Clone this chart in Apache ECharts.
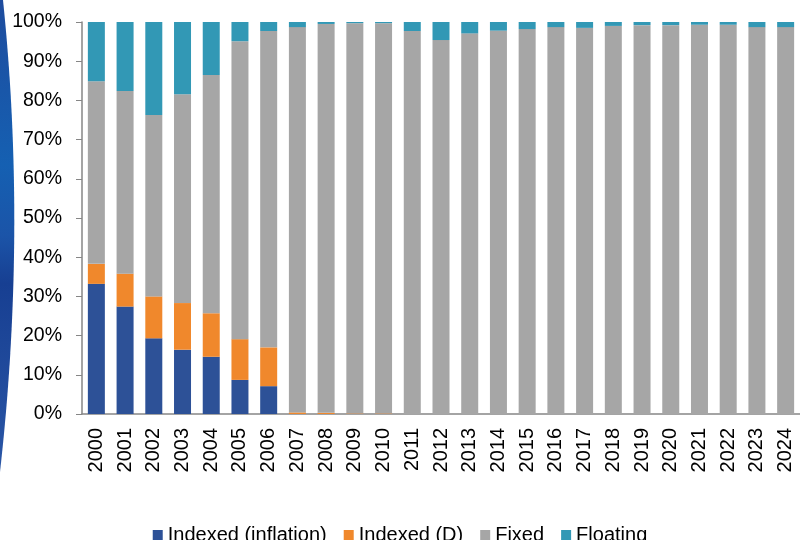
<!DOCTYPE html>
<html>
<head>
<meta charset="utf-8">
<script src="https://cdn.jsdelivr.net/npm/echarts@6/dist/echarts.min.js"></script>
<style>
html,body{margin:0;padding:0;background:#fff;}
#chart{width:800px;height:540px;}
</style>
</head>
<body>
<div id="chart"></div>
<script>
const years = ['2000','2001','2002','2003','2004','2005','2006','2007','2008','2009','2010','2011','2012','2013','2014','2015','2016','2017','2018','2019','2020','2021','2022','2023','2024'];
const indexedInflation = [33.2, 27.4, 19.3, 16.4, 14.6, 8.7, 7.1, 0, 0, 0, 0, 0, 0, 0, 0, 0, 0, 0, 0, 0, 0, 0, 0, 0, 0];
const indexedD = [5.1, 8.4, 10.7, 11.9, 11.1, 10.4, 9.9, 0.4, 0.3, 0.15, 0.15, 0, 0, 0, 0, 0, 0, 0, 0, 0, 0, 0, 0, 0, 0];
const fixed = [46.6, 46.6, 46.3, 53.3, 60.8, 76.0, 80.7, 98.3, 99.2, 99.55, 99.55, 97.7, 95.4, 97.1, 97.8, 98.2, 98.7, 98.5, 99.0, 99.2, 99.2, 99.3, 99.3, 98.7, 98.7];
const floating = [15.1, 17.6, 23.7, 18.4, 13.5, 4.9, 2.3, 1.3, 0.5, 0.3, 0.3, 2.3, 4.6, 2.9, 2.2, 1.8, 1.3, 1.5, 1.0, 0.8, 0.8, 0.7, 0.7, 1.3, 1.3];
const seriesNames = ['Indexed (inflation)', 'Indexed (D)', 'Fixed', 'Floating'];
const colors = ['#2D5197', '#F0882C', '#A6A6A6', '#3298B5'];

const chart = echarts.init(document.getElementById('chart'), null, {renderer: 'canvas'});
const font = 'Liberation Sans, Arial, sans-serif';
const values = [indexedInflation, indexedD, fixed, floating];
chart.setOption({
  animation: false,
  backgroundColor: '#fff',
  color: colors,
  grid: { left: 82, right: -5.5, top: 22, bottom: 126, containLabel: false },
  legend: {
    data: seriesNames,
    left: 'center',
    top: 520,
    icon: 'rect',
    itemWidth: 10,
    itemHeight: 10,
    itemGap: 17,
    textStyle: { fontFamily: font, fontSize: 20, color: '#000' }
  },
  xAxis: {
    type: 'category',
    data: years,
    axisLine: { lineStyle: { color: '#868686', width: 1.5 } },
    axisTick: { show: false },
    axisLabel: { rotate: 90, fontFamily: font, fontSize: 20, color: '#000', margin: 14, interval: 0 }
  },
  yAxis: {
    type: 'value',
    min: 0,
    max: 100,
    interval: 10,
    splitLine: { show: false },
    axisLine: { show: true, lineStyle: { color: '#868686', width: 1.5 } },
    axisTick: { show: true, length: 6, lineStyle: { color: '#868686' } },
    axisLabel: { formatter: '{value}%', fontFamily: font, fontSize: 19.5, color: '#000', margin: 20 }
  },
  series: seriesNames.map((n, i) => ({
    name: n,
    type: 'bar',
    stack: 'total',
    barWidth: 17,
    data: values[i],
    itemStyle: { color: colors[i] }
  }))
});
try {
  chart.setOption({
    graphic: [{
      type: 'polygon',
      z: -10,
      shape: { points: (function(){
        const pts = [[0,0]];
        for (let k = 0; k <= 40; k++) {
          const t = k / 40;
          const x = (1-t)*(1-t)*3 + 2*(1-t)*t*27;
          const y = 2*(1-t)*t*232 + t*t*472;
          pts.push([x, y]);
        }
        return pts;
      })() },
      style: {
        fill: {
          type: 'linear', x: 0, y: 0, x2: 0, y2: 1,
          colorStops: [
            {offset: 0, color: '#1E4C9E'},
            {offset: 0.35, color: '#1560B2'},
            {offset: 0.5, color: '#1B54A8'},
            {offset: 0.6, color: '#173F92'},
            {offset: 1, color: '#2A56A6'}
          ]
        }
      }
    }]
  });
} catch (e) { console.log('graphic failed', e); }
</script>
</body>
</html>
